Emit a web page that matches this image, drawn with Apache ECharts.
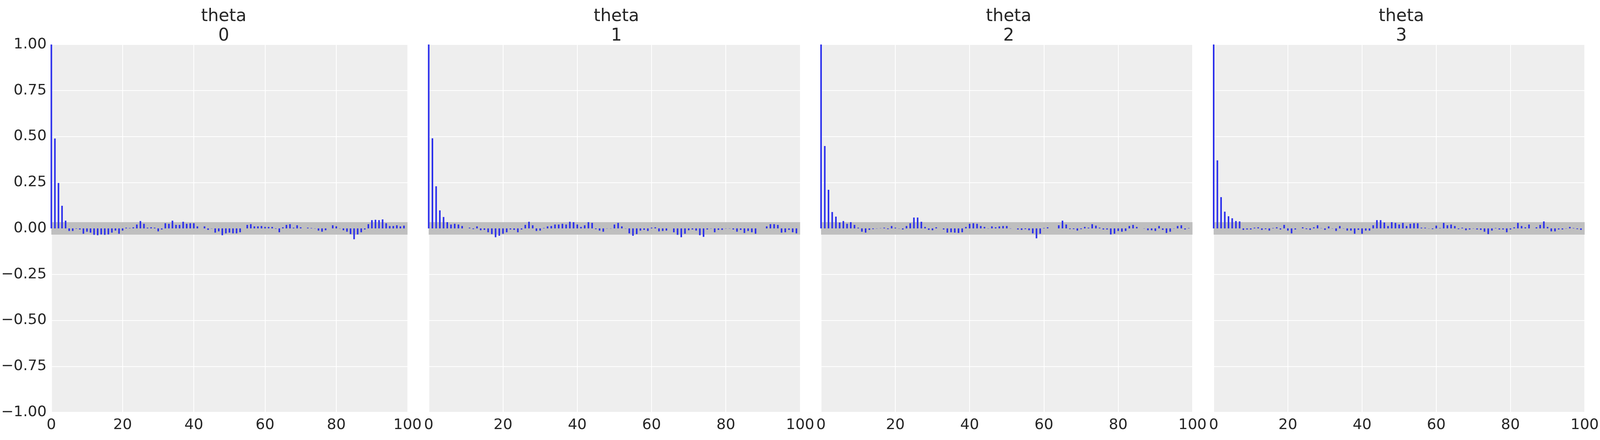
<!DOCTYPE html>
<html>
<head>
<meta charset="utf-8">
<script src="https://cdn.jsdelivr.net/npm/echarts@6/dist/echarts.min.js"></script>
<style>
  html, body { margin: 0; padding: 0; background: #ffffff; overflow: hidden; }
  #main { width: 100vw; height: 100vh; }
</style>
</head>
<body>
<div id="main"></div>
<script>
// autocorrelation per lag (0..99)
var theta0 = [1.0, 0.489, 0.247, 0.123, 0.042, -0.014, -0.014, -0.002, -0.006, -0.029,
  -0.018, -0.023, -0.035, -0.037, -0.033, -0.035, -0.033, -0.023, -0.012, -0.029,
  -0.012, 0.004, 0.002, 0.006, 0.021, 0.040, 0.025, 0.004, 0.006, 0.004,
  -0.016, -0.006, 0.028, 0.025, 0.042, 0.019, 0.019, 0.036, 0.025, 0.028,
  0.028, 0.011, 0.000, 0.011, -0.008, -0.001, -0.023, -0.016, -0.037, -0.027,
  -0.023, -0.027, -0.027, -0.021, 0.000, 0.019, 0.023, 0.011, 0.011, 0.013,
  0.008, 0.008, 0.008, -0.002, -0.021, 0.006, 0.019, 0.023, 0.004, 0.017,
  0.006, 0.000, 0.004, 0.002, -0.001, -0.012, -0.018, -0.010, 0.000, 0.017,
  0.011, -0.001, -0.010, -0.018, -0.031, -0.059, -0.033, -0.021, -0.006, 0.023,
  0.045, 0.047, 0.045, 0.049, 0.028, 0.013, 0.013, 0.017, 0.011, 0.015];

var theta1 = [1.0, 0.490, 0.229, 0.098, 0.062, 0.034, 0.021, 0.025, 0.021, 0.013,
  0.000, 0.004, -0.004, 0.011, -0.010, -0.008, -0.021, -0.031, -0.048, -0.040,
  -0.029, -0.021, -0.006, -0.008, -0.021, -0.006, 0.019, 0.036, 0.017, -0.014,
  -0.012, 0.002, 0.011, 0.013, 0.021, 0.021, 0.025, 0.021, 0.036, 0.034,
  0.021, 0.008, 0.017, 0.034, 0.030, -0.004, -0.012, -0.018, -0.001, -0.001,
  0.021, 0.030, 0.011, -0.001, -0.027, -0.040, -0.031, -0.012, -0.008, -0.014,
  0.004, 0.006, -0.016, -0.014, -0.012, 0.000, -0.021, -0.035, -0.048, -0.029,
  -0.010, -0.006, -0.012, -0.037, -0.046, -0.006, -0.001, -0.021, -0.008, -0.008,
  -0.001, -0.001, -0.006, -0.018, -0.008, -0.025, -0.014, -0.021, -0.029, 0.000,
  0.000, 0.011, 0.023, 0.023, 0.019, -0.023, -0.021, -0.008, -0.021, -0.027];

var theta2 = [1.0, 0.448, 0.210, 0.089, 0.064, 0.032, 0.040, 0.025, 0.034, 0.019,
  0.004, -0.018, -0.023, -0.008, -0.004, -0.001, 0.001, 0.004, -0.004, 0.013,
  0.004, -0.001, -0.006, 0.013, 0.028, 0.059, 0.059, 0.036, 0.008, -0.008,
  -0.010, 0.006, 0.000, -0.006, -0.023, -0.021, -0.023, -0.025, -0.021, 0.008,
  0.025, 0.028, 0.025, 0.013, 0.008, -0.001, 0.011, 0.006, 0.011, 0.013,
  0.013, -0.001, 0.000, -0.006, -0.008, -0.004, -0.010, -0.027, -0.054, -0.029,
  0.002, 0.006, 0.000, 0.000, 0.017, 0.042, 0.021, -0.004, -0.004, -0.012,
  -0.004, 0.008, 0.004, 0.023, 0.015, 0.004, -0.006, -0.006, -0.033, -0.029,
  -0.014, -0.018, -0.014, 0.013, 0.019, 0.008, 0.000, -0.001, -0.010, -0.010,
  -0.014, 0.013, -0.008, -0.025, -0.018, -0.001, 0.013, 0.017, -0.006, 0.002];

var theta3 = [1.0, 0.370, 0.170, 0.091, 0.066, 0.055, 0.040, 0.038, -0.008, -0.006,
  -0.006, 0.004, 0.006, -0.008, -0.004, -0.012, 0.002, 0.006, -0.006, 0.019,
  -0.012, -0.027, -0.006, 0.000, 0.006, -0.004, -0.008, 0.006, 0.017, 0.001,
  -0.008, 0.011, -0.001, -0.014, 0.013, -0.001, -0.012, -0.012, -0.029, -0.008,
  -0.029, -0.012, -0.012, 0.017, 0.045, 0.045, 0.032, 0.013, 0.034, 0.030,
  0.021, 0.030, 0.013, 0.025, 0.028, 0.028, 0.004, 0.004, -0.001, -0.004,
  0.015, 0.002, 0.030, 0.017, 0.021, 0.013, -0.004, 0.004, -0.010, -0.006,
  -0.001, -0.006, -0.008, -0.018, -0.031, -0.012, 0.002, -0.006, -0.006, -0.021,
  -0.006, 0.006, 0.030, 0.013, 0.006, 0.021, 0.000, 0.006, 0.019, 0.038,
  0.008, -0.016, -0.016, -0.006, -0.006, -0.001, 0.008, 0.002, -0.004, -0.008];

var panelNames = ['0', '1', '2', '3'];
var band = 0.034;   // confidence band half-width

var allSeries = [theta0, theta1, theta2, theta3];
var font = 'DejaVu Sans';
var txt = '#262626';

// layout measured on a 6647px wide figure; scale to the real window width
var W = window.innerWidth || 6647;
var sx = W / 6647;
var lefts = [150, 1781, 3411, 5042];
var w = 1543;

var option = { animation: false, grid: [], xAxis: [], yAxis: [], series: [], title: [] };

for (var i = 0; i < 4; i++) {
  option.grid.push({
    left: lefts[i] * sx, top: 114, width: w * sx, height: 942,
    show: true, backgroundColor: '#eeeeee', borderWidth: 0
  });
  option.title.push({
    text: 'theta\n' + panelNames[i],
    left: (lefts[i] + w / 2) * sx, top: 13, textAlign: 'center',
    textStyle: { fontFamily: font, fontSize: 44, lineHeight: 50, fontWeight: 'normal', color: txt }
  });
  option.xAxis.push({
    type: 'value', gridIndex: i, min: 0, max: 100, interval: 20,
    axisLine: { show: false }, axisTick: { show: false },
    axisLabel: { fontFamily: font, fontSize: 38, color: txt, margin: 14 },
    splitLine: { show: true, lineStyle: { color: '#ffffff', width: 2 } }
  });
  option.yAxis.push({
    type: 'value', gridIndex: i, min: -1, max: 1, interval: 0.25,
    axisLine: { show: false }, axisTick: { show: false },
    axisLabel: {
      show: i === 0, fontFamily: font, fontSize: 38, color: txt, margin: 12,
      formatter: function (v) { return (v < 0 ? '\u2212' : '') + Math.abs(v).toFixed(2); }
    },
    splitLine: { show: true, lineStyle: { color: '#ffffff', width: 2 } }
  });
  // grey band
  option.series.push({
    type: 'custom', xAxisIndex: i, yAxisIndex: i, z: 1, silent: true,
    data: [[0, 100]],
    renderItem: function (params, api) {
      var p1 = api.coord([api.value(0), band]);
      var p2 = api.coord([api.value(1), -band]);
      return { type: 'rect', shape: { x: p1[0], y: p1[1], width: p2[0] - p1[0], height: p2[1] - p1[1] },
               style: { fill: '#bfbfbf' } };
    }
  });
  var d = allSeries[i].map(function (v, k) { return [k, v]; });
  option.series.push({
    type: 'bar', xAxisIndex: i, yAxisIndex: i, z: 3, barWidth: 4,
    data: d, clip: true, itemStyle: { color: '#2a2eec' }
  });
}

var chart = echarts.init(document.getElementById('main'));
chart.setOption(option);
</script>
</body>
</html>
